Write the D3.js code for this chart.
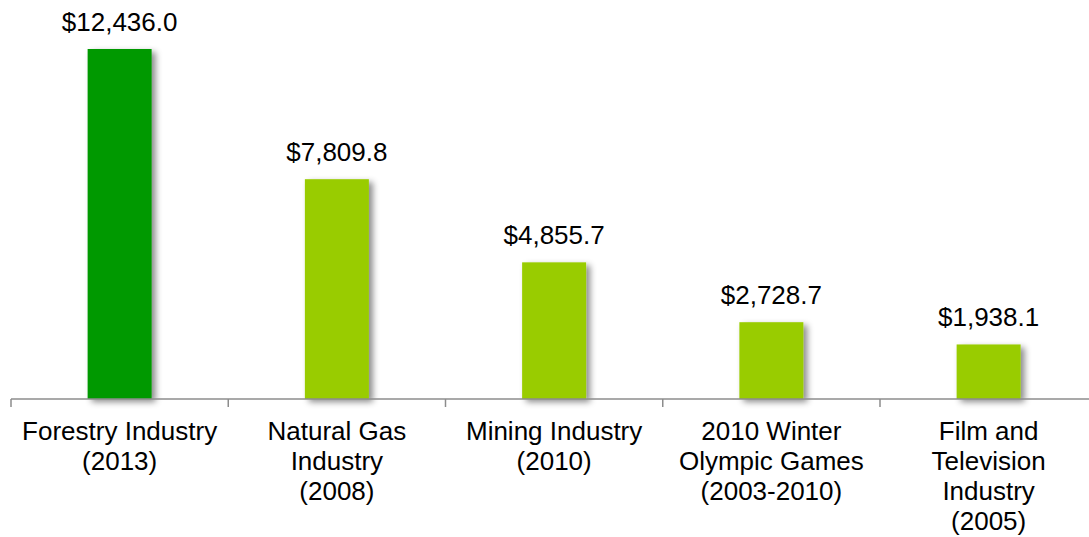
<!DOCTYPE html>
<html>
<head>
<meta charset="utf-8">
<script src="https://cdn.jsdelivr.net/npm/d3@7"></script>
<style>
  body { margin: 0; background: #fff; }
  svg { display: block; }
</style>
</head>
<body>
<div id="chart"></div>
<script>
var categories = ["Forestry Industry (2013)", "Natural Gas Industry (2008)", "Mining Industry (2010)",
                  "2010 Winter Olympic Games (2003-2010)", "Film and Television Industry (2005)"];
var labelLines = [["Forestry Industry", "(2013)"],
                  ["Natural Gas", "Industry", "(2008)"],
                  ["Mining Industry", "(2010)"],
                  ["2010 Winter", "Olympic Games", "(2003-2010)"],
                  ["Film and", "Television", "Industry", "(2005)"]];
var values = [12436.0, 7809.8, 4855.7, 2728.7, 1938.1];
var barColors = ["#009900", "#99cc00", "#99cc00", "#99cc00", "#99cc00"];

var width = 1089,
    height = 537,
    baseline = 399,
    plotTop = 49,
    barWidth = 64,
    fontSize = 26;

var svg = d3.select("#chart").append("svg")
    .attr("width", width)
    .attr("height", height);

/* drop shadow for bars */
var defs = svg.append("defs");
var filter = defs.append("filter")
    .attr("id", "shadow")
    .attr("x", "-20%").attr("y", "-20%")
    .attr("width", "160%").attr("height", "140%");
filter.append("feDropShadow")
    .attr("dx", 4)
    .attr("dy", 3)
    .attr("stdDeviation", 3)
    .attr("flood-color", "#000")
    .attr("flood-opacity", 0.45);

var x = d3.scaleBand()
    .domain(categories)
    .range([11, 11 + 217.25 * 5])
    .padding(0);

var y = d3.scaleLinear()
    .domain([0, d3.max(values)])
    .range([baseline, plotTop]);

var data = categories.map(function(c, i) { return { cat: c, value: values[i], color: barColors[i], lines: labelLines[i] }; });

/* bars */
svg.append("g")
    .selectAll("rect")
    .data(data)
    .enter().append("rect")
        .attr("x", function(d) { return x(d.cat) + x.bandwidth() / 2 - barWidth / 2; })
        .attr("y", function(d) { return y(d.value); })
        .attr("width", barWidth)
        .attr("height", function(d) { return baseline - y(d.value); })
        .attr("fill", function(d) { return d.color; })
        .attr("filter", "url(#shadow)");

/* axis */
var axis = svg.append("g")
    .attr("transform", "translate(0," + baseline + ")");
axis.append("line")
    .attr("x1", 11).attr("x2", width)
    .attr("y1", 0).attr("y2", 0)
    .attr("stroke", "#8c8c8c")
    .attr("stroke-width", 1.5);
axis.selectAll(".tick")
    .data(categories)
    .enter().append("line")
        .attr("class", "tick")
        .attr("x1", function(d) { return x(d); })
        .attr("x2", function(d) { return x(d); })
        .attr("y1", 0).attr("y2", 8)
        .attr("stroke", "#8c8c8c")
        .attr("stroke-width", 1.5);

/* value labels */
var fmt = d3.format(",.1f");
svg.append("g")
    .selectAll("text")
    .data(data)
    .enter().append("text")
        .attr("x", function(d) { return x(d.cat) + x.bandwidth() / 2; })
        .attr("y", function(d) { return y(d.value) - 18; })
        .attr("text-anchor", "middle")
        .attr("font-family", "Liberation Sans, Arial, sans-serif")
        .attr("font-size", fontSize)
        .attr("fill", "#000")
        .text(function(d) { return "$" + fmt(d.value); });

/* category labels */
var cat = svg.append("g")
    .selectAll("text")
    .data(data)
    .enter().append("text")
        .attr("x", function(d) { return x(d.cat) + x.bandwidth() / 2; })
        .attr("y", 440)
        .attr("text-anchor", "middle")
        .attr("font-family", "Liberation Sans, Arial, sans-serif")
        .attr("font-size", fontSize)
        .attr("fill", "#000");

cat.selectAll("tspan")
    .data(function(d) { return d.lines; })
    .enter().append("tspan")
        .attr("x", function() { var p = d3.select(this.parentNode).datum(); return x(p.cat) + x.bandwidth() / 2; })
        .attr("dy", function(d, i) { return i == 0 ? 0 : 30; })
        .text(function(d) { return d; });
</script>
</body>
</html>
